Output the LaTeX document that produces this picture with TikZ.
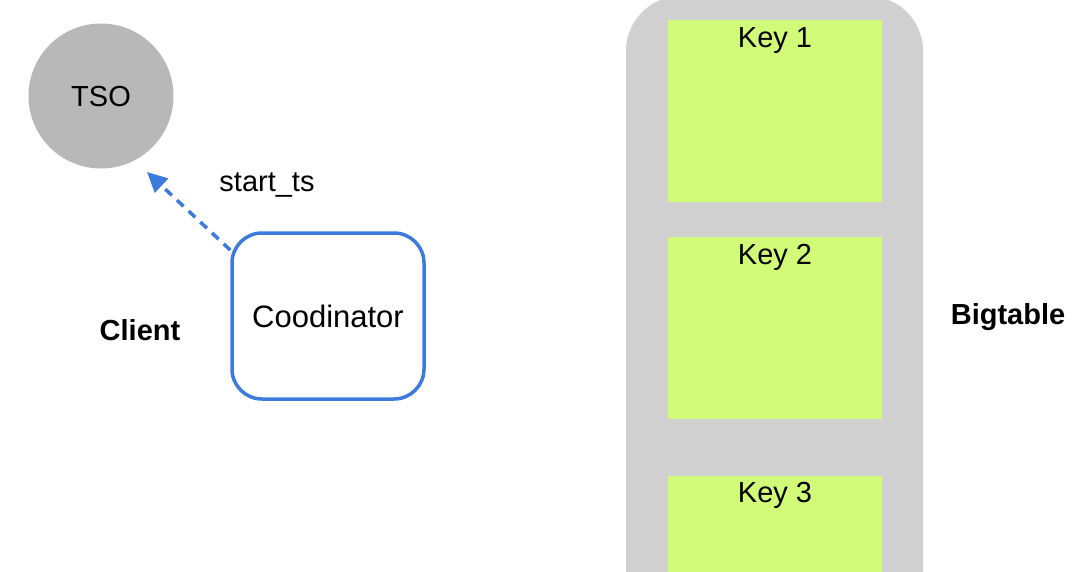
\documentclass[tikz,border=0pt]{standalone}
\usepackage{fontspec}
\setmainfont{Liberation Sans}
\usetikzlibrary{arrows.meta}
\definecolor{tsogray}{RGB}{184,184,184}
\definecolor{contgray}{RGB}{208,208,208}
\definecolor{keygreen}{RGB}{208,250,120}
\definecolor{cblue}{RGB}{60,122,222}
\tikzset{
  txt/.style={inner sep=0pt, font=\fontsize{29}{34}\selectfont},
  btxt/.style={inner sep=0pt, font=\fontsize{29}{34}\selectfont\bfseries},
  keybox/.style={fill=keygreen, draw=none, inner sep=0pt, anchor=north west, minimum width=214pt, minimum height=182pt},
  coordbox/.style={draw=cblue, line width=3.5pt, rounded corners=30pt, fill=white, inner sep=0pt, minimum width=192pt, minimum height=166pt},
  tsocirc/.style={circle, fill=tsogray, inner sep=0pt, minimum size=145pt},
  dasharrow/.style={draw=cblue, line width=3.5pt, dash pattern=on 9pt off 7pt, -{Triangle[length=20pt,width=19pt]}}
}
\begin{document}
\begin{tikzpicture}[x=1pt,y=-1pt]
\useasboundingbox (0,0) rectangle (1083,571);
\clip (0,0) rectangle (1083,571);
% Bigtable container
\fill[contgray, rounded corners=55pt] (626,-4) rectangle (923,640);
\node[keybox] (k1) at (668,20) {};
\node[keybox] (k2) at (668,237) {};
\node[keybox] (k3) at (668,476) {};
\node[txt, anchor=base] (k1t) at (775,47) {Key 1};
\node[txt, anchor=base] (k2t) at (775,264) {Key 2};
\node[txt, anchor=base] (k3t) at (775,502) {Key 3};
\node[btxt, anchor=base] (bt) at (1008,324) {Bigtable};
% TSO
\node[tsocirc] (tso) at (101,96) {};
\node[txt, anchor=base] (tsot) at (101,106) {TSO};
% Coordinator
\node[coordbox] (coord) at (328,316) {};
\node[txt, anchor=base, font=\fontsize{31}{36}\selectfont] (coordt) at (328,327) {Coodinator};
\node[btxt, anchor=base] (client) at (140,340) {Client};
\node[txt, anchor=base] (sts) at (267,191) {start\_ts};
\coordinate (tip) at (147,172);
\draw[dasharrow] (coord.146) -- (tip);
\end{tikzpicture}
\end{document}
